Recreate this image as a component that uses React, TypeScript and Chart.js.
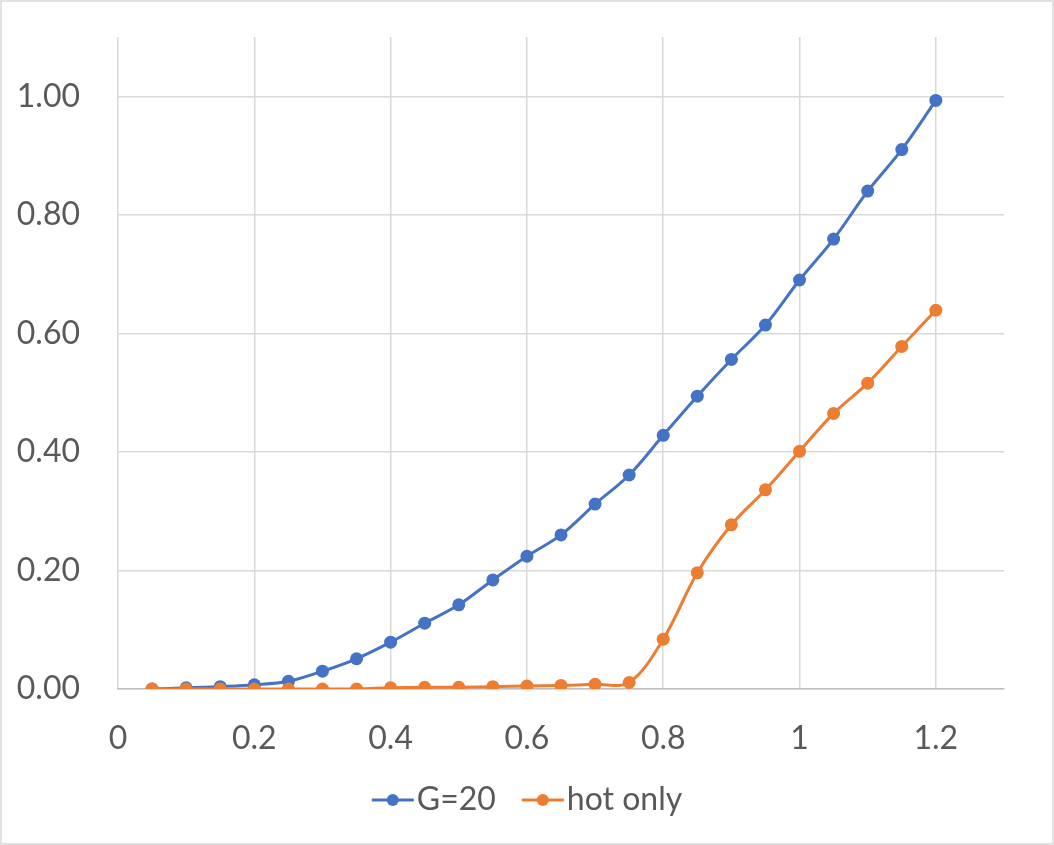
import React, { useEffect, useRef } from "react";
import { Chart, registerables } from "chart.js";

Chart.register(...registerables);

const xValues = [0.05, 0.1, 0.15, 0.2, 0.25, 0.3, 0.35, 0.4, 0.45, 0.5, 0.55, 0.6, 0.65, 0.7, 0.75, 0.8, 0.85, 0.9, 0.95, 1.0, 1.05, 1.1, 1.15, 1.2];
const g20Values = [0.0, 0.002, 0.004, 0.007, 0.013, 0.03, 0.051, 0.079, 0.111, 0.142, 0.184, 0.224, 0.26, 0.312, 0.361, 0.428, 0.494, 0.556, 0.614, 0.69, 0.759, 0.84, 0.91, 0.993];
const hotOnlyValues = [0.0, 0.0, 0.0, 0.0, 0.0, 0.0, 0.0, 0.002, 0.003, 0.003, 0.004, 0.005, 0.006, 0.008, 0.011, 0.084, 0.196, 0.277, 0.336, 0.401, 0.465, 0.516, 0.578, 0.639];
const seriesNames = ["G=20", "hot only"];
const seriesColors = ["#4472C4", "#ED7D31"];
const xTicks = [0, 0.2, 0.4, 0.6, 0.8, 1.0, 1.2];
const yTicks = [0, 0.2, 0.4, 0.6, 0.8, 1.0];

const FONT = "Lato, 'Open Sans', sans-serif";
const TEXT = "#595959";
const GRID = "#d9d9d9";

const legendPlugin = {
  id: "lineDotLegend",
  afterDraw(chart: any) {
    const ctx = chart.ctx as CanvasRenderingContext2D;
    ctx.save();
    ctx.font = `32px ${FONT}`;
    const lineLen = 42;
    const textGap = 3;
    const itemGap = 26;
    const widths = seriesNames.map((n) => lineLen + textGap + ctx.measureText(n).width);
    const total = widths.reduce((a, b) => a + b, 0) + itemGap * (seriesNames.length - 1);
    let x = chart.width / 2 - total / 2;
    const y = 800;
    seriesNames.forEach((name, i) => {
      ctx.strokeStyle = seriesColors[i];
      ctx.lineWidth = 3;
      ctx.beginPath();
      ctx.moveTo(x, y);
      ctx.lineTo(x + lineLen, y);
      ctx.stroke();
      ctx.fillStyle = seriesColors[i];
      ctx.beginPath();
      ctx.arc(x + lineLen / 2, y, 6, 0, Math.PI * 2);
      ctx.fill();
      ctx.fillStyle = TEXT;
      ctx.textBaseline = "middle";
      ctx.textAlign = "left";
      ctx.fillText(name, x + lineLen + textGap, y);
      x += widths[i] + itemGap;
    });
    ctx.restore();
  },
};

const borderPlugin = {
  id: "outerBorder",
  beforeDraw(chart: any) {
    const ctx = chart.ctx as CanvasRenderingContext2D;
    ctx.save();
    ctx.fillStyle = "#ffffff";
    ctx.fillRect(0, 0, chart.width, chart.height);
    ctx.strokeStyle = GRID;
    ctx.lineWidth = 1.5;
    ctx.strokeRect(1, 1, chart.width - 2, chart.height - 2);
    ctx.restore();
  },
};

export default function App() {
  const canvasRef = useRef<HTMLCanvasElement | null>(null);

  useEffect(() => {
    document.body.style.margin = "0";
    const canvas = canvasRef.current;
    if (!canvas) return;
    const mk = (vals: number[]) => xValues.map((x, i) => ({ x, y: vals[i] }));
    const ds = (i: number, vals: number[], order: number) => ({
      label: seriesNames[i],
      data: mk(vals),
      borderColor: seriesColors[i],
      backgroundColor: seriesColors[i],
      borderWidth: 3,
      pointRadius: 6.5,
      pointBorderWidth: 0,
      tension: 0.35,
      order,
    });
    const chart = new Chart(canvas, {
      type: "line",
      data: {
        datasets: [ds(0, g20Values, 1), ds(1, hotOnlyValues, 0)],
      },
      options: {
        responsive: false,
        animation: false,
        layout: { padding: { top: 37, right: 50, left: 0, bottom: 0 } },
        plugins: {
          legend: { display: false },
          tooltip: { enabled: false },
        },
        scales: {
          x: {
            type: "linear",
            min: 0,
            max: 1.3,
            afterBuildTicks: (scale: any) => {
              scale.ticks = xTicks.map((v) => ({ value: v }));
            },
            afterFit: (scale: any) => {
              scale.height = 156;
              scale.paddingLeft = 0;
              scale.paddingRight = 0;
            },
            ticks: {
              padding: 30,
              color: TEXT,
              font: { family: FONT, size: 32 },
              callback: (v: any) => String(Math.round(Number(v) * 10) / 10),
            },
            grid: { color: GRID, lineWidth: 1.5, drawTicks: false },
            border: { color: "#bfbfbf", width: 1.5 },
          },
          y: {
            type: "linear",
            min: 0,
            max: 1.1,
            afterBuildTicks: (scale: any) => {
              scale.ticks = yTicks.map((v) => ({ value: v }));
            },
            afterFit: (scale: any) => {
              scale.width = 118;
              scale.paddingTop = 0;
              scale.paddingBottom = 0;
            },
            ticks: {
              padding: 38,
              color: TEXT,
              font: { family: FONT, size: 32 },
              callback: (v: any) => Number(v).toFixed(2),
            },
            grid: { color: GRID, lineWidth: 1.5, drawTicks: false },
            border: { display: false },
          },
        },
      },
      plugins: [borderPlugin, legendPlugin],
    });
    return () => chart.destroy();
  }, []);

  return (
    <div style={{ width: 1054, height: 845 }}>
      <canvas ref={canvasRef} width={1054} height={845} style={{ display: "block" }} />
    </div>
  );
}
